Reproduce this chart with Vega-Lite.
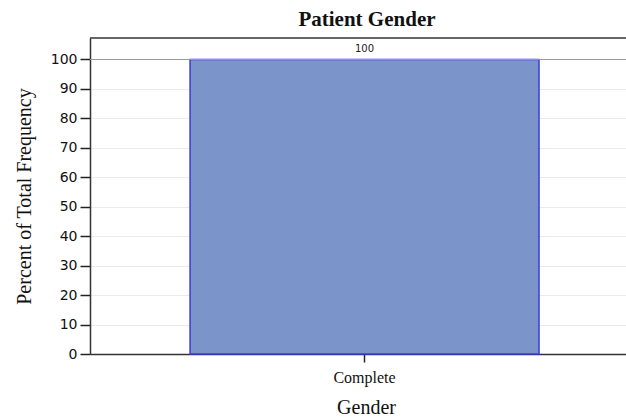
{
  "$schema": "https://vega.github.io/schema/vega-lite/v6.json",
  "width": 536,
  "height": 316,
  "autosize": {"type": "none"},
  "padding": {"left": 90, "top": 38, "right": 0, "bottom": 65},
  "background": "white",
  "config": {
    "view": {"stroke": null}
  },
  "title": {"text": "Patient Gender", "font": "Liberation Serif", "fontSize": 21, "fontWeight": "bold", "color": "#111", "anchor": "middle", "dx": 9, "offset": 7},
  "data": {"values": [{"Gender": "Complete", "Percent": 100}]},
  "encoding": {
    "x": {"field": "Gender", "type": "nominal",
      "scale": {"paddingInner": 0, "paddingOuter": 0.268, "align": 0.535},
      "axis": {"title": "Gender", "labelAngle": 0, "labelFont": "Liberation Serif", "labelFontSize": 16, "labelColor": "#111", "titleFont": "Liberation Serif", "titleFontSize": 20, "titleFontWeight": "normal", "titleColor": "#111", "tickSize": 8, "tickColor": "#222", "tickWidth": 1.5, "domainColor": "#333", "domainWidth": 1.5, "labelPadding": 7, "titlePadding": 12, "titleX": 276}},
    "y": {"field": "Percent", "type": "quantitative",
      "scale": {"domain": [0, 107.3], "nice": false},
      "axis": {"title": "Percent of Total Frequency", "tickCount": 11, "values": [0,10,20,30,40,50,60,70,80,90,100], "labelOverlap": false, "grid": true, "gridColor": "#ebebeb", "labelFont": "DejaVu Sans", "labelFontSize": 14, "labelColor": "#111", "titleFont": "Liberation Serif", "titleFontSize": 20, "titleFontWeight": "normal", "titleColor": "#111", "tickSize": 10, "tickColor": "#222", "tickWidth": 1.5, "domainColor": "#333", "domainWidth": 1.5, "labelPadding": 3, "titlePadding": 16}}
  },
  "layer": [
    {
      "mark": {"type": "bar", "fill": "#7b95cb", "stroke": "#3a3ae0", "strokeWidth": 1.5}
    },
    {
      "mark": {"type": "text", "font": "DejaVu Sans", "fontSize": 10, "color": "#222", "baseline": "bottom", "dy": -5},
      "encoding": {
        "text": {"field": "Percent", "type": "quantitative"}
      }
    },
    {
      "mark": {"type": "rule", "color": "#999", "strokeWidth": 1},
      "encoding": {"x": {"value": 0}, "x2": {"value": 536}, "y": {"datum": 100, "type": "quantitative"}}
    },
    {
      "mark": {"type": "rule", "color": "#333", "strokeWidth": 1.5},
      "encoding": {"x": {"value": 0}, "x2": {"value": 536}, "y": {"datum": 107.3, "type": "quantitative"}}
    }
  ]
}
